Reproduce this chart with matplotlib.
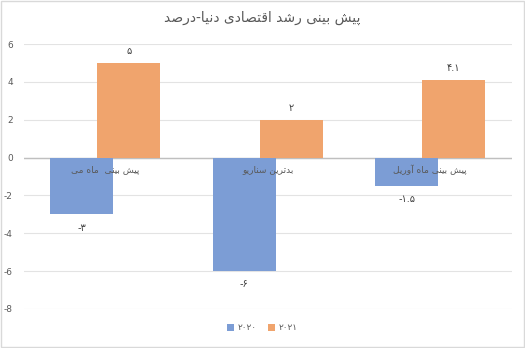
import matplotlib
matplotlib.use("Agg")
import matplotlib.pyplot as plt
import numpy as np

# ---------------- data ----------------
title = "پیش بینی رشد اقتصادی دنیا-درصد"
categories = ["پیش بینی  ماه می", "بدترین سناریو", "پیش بینی ماه آوریل"]
series_names = ["۲۰۲۰", "۲۰۲۱"]
values_2020 = [-3, -6, -1.5]
values_2021 = [5, 2, 4.1]
y_ticks = [-8, -6, -4, -2, 0, 2, 4, 6]

# ---------------- Arabic-script shaping (matplotlib has no RTL shaping) ----------------
FORMS = {
    'ا': ('\uFE8D', '\uFE8E', None, None),
    'آ': ('\uFE81', '\uFE82', None, None),
    'ب': ('\uFE8F', '\uFE90', '\uFE91', '\uFE92'),
    'پ': ('\uFB56', '\uFB57', '\uFB58', '\uFB59'),
    'ت': ('\uFE95', '\uFE96', '\uFE97', '\uFE98'),
    'د': ('\uFEA9', '\uFEAA', None, None),
    'ر': ('\uFEAD', '\uFEAE', None, None),
    'س': ('\uFEB1', '\uFEB2', '\uFEB3', '\uFEB4'),
    'ش': ('\uFEB5', '\uFEB6', '\uFEB7', '\uFEB8'),
    'ص': ('\uFEB9', '\uFEBA', '\uFEBB', '\uFEBC'),
    'ق': ('\uFED5', '\uFED6', '\uFED7', '\uFED8'),
    'ل': ('\uFEDD', '\uFEDE', '\uFEDF', '\uFEE0'),
    'م': ('\uFEE1', '\uFEE2', '\uFEE3', '\uFEE4'),
    'ن': ('\uFEE5', '\uFEE6', '\uFEE7', '\uFEE8'),
    'ه': ('\uFEE9', '\uFEEA', '\uFEEB', '\uFEEC'),
    'و': ('\uFEED', '\uFEEE', None, None),
    'ی': ('\uFEEF', '\uFEF0', '\uFEF3', '\uFEF4'),
}


def shape(s):
    out = []
    n = len(s)
    for i, ch in enumerate(s):
        if ch not in FORMS:
            out.append(ch)
            continue
        f = FORMS[ch]
        prev = s[i - 1] if i > 0 else None
        nxt = s[i + 1] if i < n - 1 else None
        pj = prev in FORMS and FORMS[prev][2] is not None
        nj = nxt in FORMS and f[2] is not None
        if pj and nj:
            out.append(f[3])
        elif pj:
            out.append(f[1])
        elif nj:
            out.append(f[2])
        else:
            out.append(f[0])
    return "".join(reversed(out))


FA_DIGITS = str.maketrans("0123456789", "۰۱۲۳۴۵۶۷۸۹")


def to_fa(v):
    txt = ("%g" % v)
    return txt.translate(FA_DIGITS)


# ---------------- figure ----------------
plt.rcParams['font.family'] = ['DejaVu Sans']
fig = plt.figure(figsize=(5.25, 3.48), dpi=100)
ax = fig.add_axes([24 / 525, 1 - 309 / 348, 487.5 / 525, (309 - 44) / 348])

blue = "#7C9DD5"
orange = "#F0A46D"
x = np.arange(len(categories))
w = 0.388
off = 0.145
b1 = ax.bar(x - off, values_2020, w, color=blue, label=series_names[0], zorder=2)
b2 = ax.bar(x + off, values_2021, w, color=orange, label=series_names[1], zorder=2)

ax.set_xlim(-0.5, len(categories) - 0.5)
ax.set_ylim(min(y_ticks), max(y_ticks))
ax.set_yticks(y_ticks)
ax.set_yticklabels([str(t) for t in y_ticks], color="#595959", fontsize=6.5)
ax.tick_params(axis='y', length=0, pad=8)
ax.set_xticks([])
ax.grid(axis='y', color="#E3E3E3", lw=0.8, zorder=0)
ax.set_axisbelow(True)
for s in ax.spines.values():
    s.set_visible(False)
ax.axhline(0, color="#BFBFBF", lw=1.0, zorder=1.5)

# category labels just below the zero line
for xi, c in zip(x, categories):
    ax.annotate(shape(c), (xi, 0), xytext=(0, -9), textcoords="offset points",
                ha="center", va="center", fontsize=6.5, color="#595959", zorder=5)

# data labels
ax.bar_label(b1, labels=[to_fa(v) for v in values_2020], padding=6,
             fontsize=7, color="#404040")
ax.bar_label(b2, labels=[to_fa(v) for v in values_2021], padding=5,
             fontsize=7, color="#404040")

fig.text(0.5, 1 - 18 / 348, shape(title), ha="center", va="center",
         fontsize=10, color="#595959")

leg = fig.legend(handles=[b1, b2], labels=series_names, loc="center",
                 bbox_to_anchor=(0.5, 1 - 328 / 348), ncol=2, frameon=False,
                 fontsize=6.5, handlelength=0.8, handleheight=0.8,
                 columnspacing=1.2, handletextpad=0.4)
for t in leg.get_texts():
    t.set_color("#595959")

# chart border
fig.patches.append(plt.Rectangle((0.002, 0.003), 0.996, 0.994, transform=fig.transFigure,
                                 fill=False, edgecolor="#D9D9D9", lw=1.0))

fig.savefig("out.png", dpi=100)
